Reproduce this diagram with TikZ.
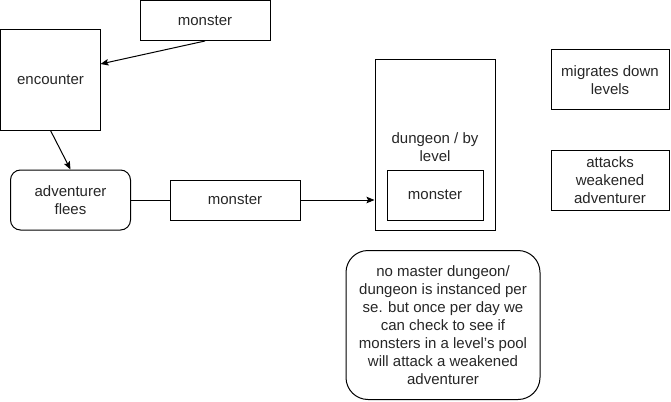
\documentclass[tikz,border=0pt]{standalone}
\usepackage{fontspec}
\setmainfont{Liberation Sans}
\usetikzlibrary{arrows.meta,calc}
\begin{document}
\begin{tikzpicture}[x=1pt,y=-1pt,
  every node/.style={font=\fontsize{15}{18}\selectfont, text=black!85, align=center, inner sep=0pt},
  box/.style={draw=black, line width=1pt, rectangle},
  rbox/.style={box, rounded corners=#1},
  conn/.style={line width=1pt, draw=black},
  arr/.style={conn, -{Stealth[length=8pt,width=6.5pt,inset=1.5pt]}}]
\path[use as bounding box] (0,0) rectangle (671,401);
\node[box, minimum width=130pt, minimum height=40pt] (mt) at (205,20.5) {monster};
\node[box, minimum width=100pt, minimum height=100pt] (enc) at (50.5,80) {encounter};
\node[rbox=10pt, minimum width=120pt, minimum height=60pt] (adv) at (70.5,200) {adventurer\\flees};
\node[box, minimum width=130pt, minimum height=40pt] (mm) at (235,200) {monster};
\node[box, minimum width=120pt, minimum height=170pt] (dun) at (435,145) {};
\node (dunl) at (435,147) {dungeon / by\\level};
\node[box, minimum width=96pt, minimum height=50pt] (im) at (435,195) {monster};
\node[box, minimum width=118pt, minimum height=60pt] (mig) at (610,80) {migrates down\\levels};
\node[box, minimum width=118pt, minimum height=60pt] (att) at (610,180) {attacks\\weakened\\adventurer};
\node[rbox=22pt, minimum width=194pt, minimum height=149pt] (note) at (443,325) {no master dungeon/\\dungeon is instanced per\\se. but once per day we\\can check to see if\\monsters in a level's pool\\will attack a weakened\\adventurer};
\coordinate (e1) at (100.5,64);
\draw[arr] (mt.south) -- (e1);
\draw[arr] (enc.south) -- (adv.north);
\draw[conn] (adv.east) -- (mm.west);
\draw[arr] (mm.east) -- (mm.east -| dun.west);
\end{tikzpicture}
\end{document}
